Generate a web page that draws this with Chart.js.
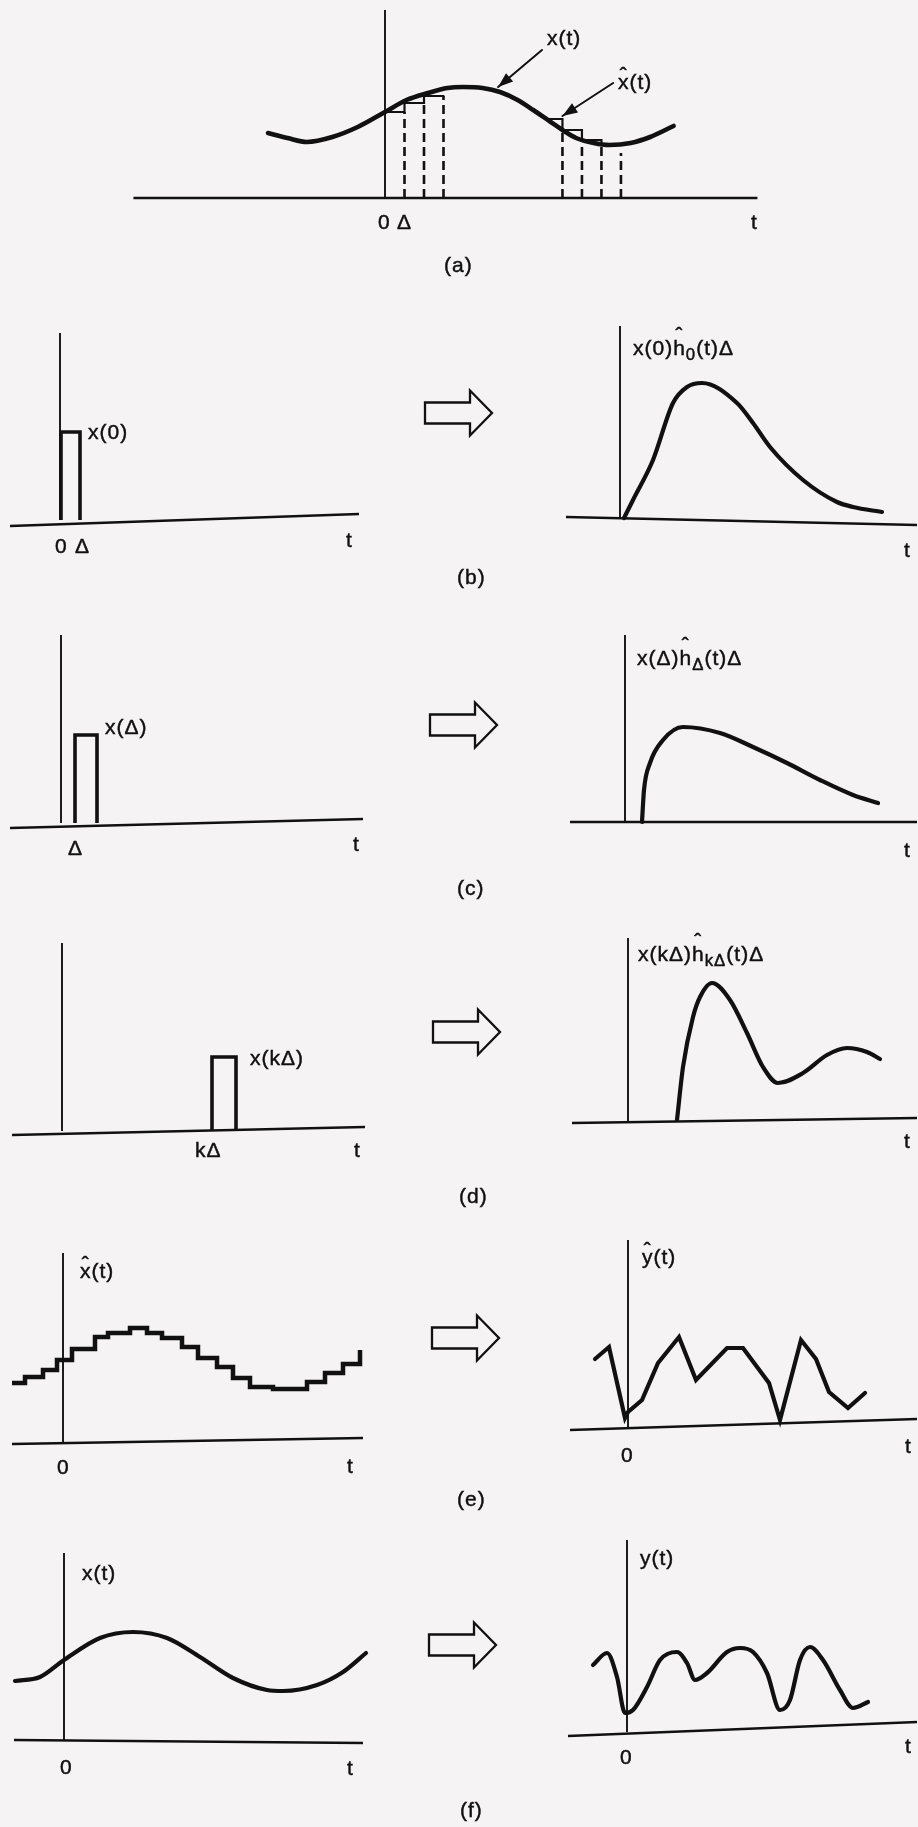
<!DOCTYPE html>
<html>
<head>
<meta charset="utf-8">
<script src="https://cdn.jsdelivr.net/npm/chart.js@4.4.0/dist/chart.umd.min.js"></script>
<style>
  body { margin: 0; background: #f5f3f3; }
  #page { position: relative; width: 918px; height: 1827px; overflow: hidden;
          font-family: "Liberation Sans", Arial, sans-serif; color: #111; }
  canvas { position: absolute; }
  .lbl { position: absolute; font-size: 21px; letter-spacing: 1px; line-height: 24px;
         white-space: nowrap; transform: translateY(-50%); -webkit-text-stroke: 0.45px #111; }
  .hat { position: relative; display: inline-block; }
  .hat i { position: absolute; left: 0; right: 0; text-align: center; font-style: normal; top: -0.32em; }
  .hat.tall i { top: -0.62em; }
  sub { font-size: 0.8em; vertical-align: -0.3em; line-height: 0; }
  svg { position: absolute; left: 0; top: 0; }
</style>
</head>
<body>
<div id="page"></div>
<script>
// (a) x(t) and the staircase x^(t), t measured in steps of Δ
const tA = [-6, -5, -4, -2.7, -1.4, 0, 1.1, 2.2, 3.2, 4, 5, 5.9, 6.8, 7.6, 8.5, 9.1, 9.8, 10.7, 11.5, 12.6, 13.6, 14.8];
const xA = [6.5, 6.0, 5.6, 6.1, 7.1, 8.6, 9.8, 10.5, 11.0, 11.1, 11.0, 10.6, 9.8, 8.8, 7.6, 6.8, 6.0, 5.5, 5.3, 5.5, 6.1, 7.2];
const stepLeftT = [0, 1, 2, 3];
const stepLeftV = [8.6, 9.5, 10.2, 10.2];
const stepRightT = [8.2, 9.1, 10.1, 11.1, 11.6];
const stepRightV = [7.9, 6.8, 5.8, 5.4, 5.4];
const dashT = [1, 2, 3, 9.1, 10.1, 11.1, 12.1];
const dashTop = [8.6, 9.5, 10.2, 6.8, 5.8, 5.4, 4.5];

// single pulses: start, width, height  (b), (c), (d)
const pulseStart = [0.1, 1.4, 15.0];
const pulseWidth = [1.9, 2.2, 2.4];
const pulseHeight = [8.8, 8.8, 7.4];

// responses to the pulses
const tB = [0.4, 1.3, 3.3, 5.3, 6.7, 8.2, 11.7, 13.3, 15.0, 18.3, 21.7, 23.3, 26.2];
const hB = [0, 1.8, 5.8, 11.5, 13.1, 13.5, 11.5, 9.5, 7.1, 3.8, 1.6, 1.1, 0.6];
const tC = [1.7, 1.9, 2.5, 3.8, 5.8, 9.5, 12.8, 16.2, 19.5, 22.8, 25.3];
const hC = [0, 3.2, 5.9, 8.2, 9.5, 8.9, 7.5, 5.9, 4.2, 2.7, 1.9];
const tD = [4.9, 5.5, 6.5, 7.2, 8.4, 10.2, 11.9, 13.5, 15.0, 17.5, 19.9, 21.9, 23.9, 25.2];
const hD = [0.2, 5.5, 10.5, 12.5, 13.9, 12.2, 8.9, 5.5, 3.9, 4.9, 6.7, 7.4, 7.0, 6.3];

// (e) staircase input and its piecewise response
const tE = [-5.1, -3.8, -2.0, -0.6, 0.9, 3.2, 4.5, 6.7, 8.4, 9.9, 11.9, 13.5, 15.4, 17.0, 18.7, 21.0, 24.4, 26.2, 28.0, 29.7];
const xE = [5.9, 6.5, 7.2, 8.2, 9.3, 10.5, 10.9, 11.4, 10.9, 10.4, 9.5, 8.4, 7.5, 6.4, 5.5, 5.3, 6.0, 6.9, 7.8, 9.2];
const tEy = [-3.3, -1.9, -0.3, 0, 1.4, 3.0, 5.1, 6.8, 9.9, 11.5, 14.1, 15.2, 17.3, 18.8, 20.1, 22.0, 23.7];
const yE = [6.9, 8.1, 1.0, 1.6, 2.8, 6.5, 9.1, 4.8, 8.0, 8.0, 4.5, 0.8, 8.8, 6.9, 3.6, 2.0, 3.5];

// (f) smooth input and output
const tF = [-4.9, -2.4, 0, 3.6, 6.9, 10.3, 13.6, 16.9, 20.3, 21.9, 25.3, 27.9, 30.2];
const xF = [6.0, 6.4, 8.1, 10.3, 10.9, 10.3, 8.4, 6.3, 5.1, 5.0, 5.6, 6.9, 8.8];
const tFy = [-3.4, -2.0, -1.0, -0.2, 0.6, 2.0, 3.3, 5.0, 6.0, 6.8, 8.0, 10.0, 11.3, 12.6, 14.0, 15.3, 16.3, 17.3, 18.3, 19.6, 21.3, 22.6, 24.1];
const yF = [6.7, 7.9, 5.5, 1.9, 2.2, 4.5, 7.2, 8.0, 6.9, 5.2, 5.9, 8.0, 8.4, 8.0, 5.9, 2.2, 3.2, 7.2, 8.5, 7.2, 4.2, 2.4, 3.0];

const ink = '#111';
const page = document.getElementById('page');

function pts(ts, vs) {
  return ts.map(function (t, i) { return { x: t, y: vs[i] }; });
}

function line(data, width, extra) {
  return Object.assign({ data: data, borderColor: ink, borderWidth: width, pointRadius: 0,
    fill: false, tension: 0, borderCapStyle: 'round', borderJoinStyle: 'round' }, extra || {});
}

function smooth(data, width) {
  return line(data, width || 4.2, { cubicInterpolationMode: 'monotone' });
}

// t axis (slightly skewed like the scan) and the vertical axis at t = 0
function axes(tMin, tMax, top, yL, yR) {
  return [
    line([{ x: tMin, y: yL || 0 }, { x: tMax, y: yR || 0 }], 2.3, { borderCapStyle: 'butt' }),
    line([{ x: 0, y: 0 }, { x: 0, y: top }], 1.9, { borderCapStyle: 'butt' })
  ];
}

function pulse(i) {
  const a = pulseStart[i], b = pulseStart[i] + pulseWidth[i], h = pulseHeight[i];
  return line([{ x: a, y: 0 }, { x: a, y: h }, { x: b, y: h }, { x: b, y: 0 }], 3.6,
    { borderJoinStyle: 'miter', borderCapStyle: 'butt' });
}

// draws a filled arrow head at the last point of datasets marked arrowHead
const arrowHeads = {
  id: 'arrowHeads',
  afterDatasetsDraw(chart) {
    const ctx = chart.ctx;
    chart.data.datasets.forEach(function (ds, i) {
      if (!ds.arrowHead) return;
      const p = chart.getDatasetMeta(i).data;
      const a = p[p.length - 2], b = p[p.length - 1];
      const ang = Math.atan2(b.y - a.y, b.x - a.x);
      ctx.save();
      ctx.translate(b.x, b.y);
      ctx.rotate(ang);
      ctx.beginPath();
      ctx.moveTo(0, 0);
      ctx.lineTo(-15, -5.5);
      ctx.lineTo(-15, 5.5);
      ctx.closePath();
      ctx.fillStyle = ink;
      ctx.fill();
      ctx.restore();
    });
  }
};

// box = [left, top, width, height] on the page, origin = page pixel of t=0, value=0
function panel(box, origin, sx, sy, datasets) {
  const cv = document.createElement('canvas');
  cv.width = box[2];
  cv.height = box[3];
  cv.style.left = box[0] + 'px';
  cv.style.top = box[1] + 'px';
  page.appendChild(cv);
  return new Chart(cv, {
    type: 'line',
    data: { datasets: datasets },
    options: {
      responsive: false,
      animation: false,
      events: [],
      layout: { padding: 0 },
      plugins: { legend: { display: false }, tooltip: { enabled: false } },
      scales: {
        x: { type: 'linear', display: false,
             min: (box[0] - origin[0]) / sx, max: (box[0] + box[2] - origin[0]) / sx },
        y: { type: 'linear', display: false,
             min: (origin[1] - box[1] - box[3]) / sy, max: (origin[1] - box[1]) / sy }
      }
    },
    plugins: [arrowHeads]
  });
}

// (a)
var dashPts = [];
for (var i = 0; i < dashT.length; i++) {
  dashPts.push({ x: dashT[i], y: 0 }, { x: dashT[i], y: dashTop[i] }, { x: dashT[i], y: null });
}
panel([120, 0, 660, 240], [385, 198], 19.5, 10, axes(-12.9, 19.1, 18.8).concat([
  line(dashPts, 2.6, { borderDash: [9, 5], borderCapStyle: 'butt', spanGaps: false }),
  line(pts(stepLeftT, stepLeftV), 2.2, { stepped: true, borderJoinStyle: 'miter' }),
  line(pts(stepRightT, stepRightV), 2.2, { stepped: true, borderJoinStyle: 'miter' }),
  smooth(pts(tA, xA), 4.6),
  line([{ x: 8.05, y: 14.8 }, { x: 5.8, y: 11.1 }], 2, { arrowHead: true }),
  line([{ x: 11.7, y: 11.5 }, { x: 9.1, y: 8.2 }], 2, { arrowHead: true })
]));

// (b)
panel([0, 300, 420, 250], [60, 520], 10, 10, axes(-5, 29.9, 18.7, -0.6, 0.6).concat([pulse(0)]));
panel([540, 300, 378, 240], [620, 518], 10, 10, axes(-5.4, 29.7, 19.2, 0.1, -0.7).concat([smooth(pts(tB, hB))]));

// (c)
panel([0, 610, 420, 240], [61, 823], 10, 10, axes(-5.1, 30.2, 18.8, -0.5, 0.4).concat([pulse(1)]));
panel([540, 610, 378, 240], [625, 822], 10, 10, axes(-5.5, 29.2, 18.7).concat([smooth(pts(tC, hC))]));

// (d)
panel([0, 920, 420, 240], [62, 1131], 10, 10, axes(-5, 30.3, 18.8, -0.4, 0.4).concat([pulse(2)]));
panel([540, 920, 378, 230], [628, 1122], 10, 10, axes(-5.6, 28.9, 18.4, -0.1, 0.4).concat([smooth(pts(tD, hD))]));

// (e)
panel([0, 1230, 420, 240], [63, 1442], 10, 10, axes(-5.1, 30, 18.9, -0.2, 0.4).concat([
  line(pts(tE, xE), 4.5, { stepped: true, borderJoinStyle: 'miter', borderCapStyle: 'butt' })
]));
panel([540, 1220, 378, 240], [628, 1428], 10, 10, axes(-5.8, 28.9, 18.8, -0.2, 0.9).concat([
  line(pts(tEy, yE), 4.2, { borderJoinStyle: 'miter' })
]));

// (f)
panel([0, 1530, 420, 240], [64, 1741], 10, 10, axes(-5, 29.9, 18.8, 0.1, -0.2).concat([smooth(pts(tF, xF))]));
panel([540, 1520, 378, 240], [627, 1732], 10, 10, axes(-5.9, 29, 19.2, -0.4, 1.0).concat([smooth(pts(tFy, yF))]));

// hollow arrows between the columns
function bigArrow(x0, cy) {
  const L = 67, sh = 10.5, hh = 22.5, hl = 22;
  const xb = x0 + L - hl, xt = x0 + L;
  return '<polygon points="' + [x0, cy - sh, xb, cy - sh, xb, cy - hh, xt, cy, xb, cy + hh, xb, cy + sh, x0, cy + sh].join(' ') + '" />';
}
page.insertAdjacentHTML('beforeend',
  '<svg width="918" height="1827"><g fill="none" stroke="' + ink + '" stroke-width="2.3" stroke-linejoin="miter">' +
  bigArrow(425, 413) + bigArrow(430, 725) + bigArrow(433, 1032) + bigArrow(432, 1338) + bigArrow(429, 1645) +
  '</g></svg>');

// text
function hat(ch, tall) {
  return '<span class="hat' + (tall ? ' tall' : '') + '">' + ch + '<i>ˆ</i></span>';
}
const labels = [
  ['x(t)', 547, 38], [hat('x') + '(t)', 618, 82], ['0', 378, 222], ['Δ', 397, 222], ['t', 751, 222], ['(a)', 444, 265],
  ['x(0)', 88, 432], ['0', 55, 546], ['Δ', 75, 546], ['t', 346, 540],
  ['x(0)' + hat('h', true) + '<sub>0</sub>(t)Δ', 633, 348], ['t', 904, 550], ['(b)', 457, 577],
  ['x(Δ)', 105, 727], ['Δ', 68, 848], ['t', 353, 844],
  ['x(Δ)' + hat('h', true) + '<sub>Δ</sub>(t)Δ', 637, 658], ['t', 904, 850], ['(c)', 457, 888],
  ['x(kΔ)', 250, 1058], ['kΔ', 195, 1150], ['t', 354, 1150],
  ['x(kΔ)' + hat('h', true) + '<sub>kΔ</sub>(t)Δ', 638, 954], ['t', 904, 1141], ['(d)', 459, 1196],
  [hat('x') + '(t)', 80, 1271], ['0', 57, 1467], ['t', 347, 1466],
  [hat('y') + '(t)', 642, 1257], ['0', 621, 1455], ['t', 905, 1446], ['(e)', 457, 1499],
  ['x(t)', 82, 1573], ['0', 60, 1767], ['t', 347, 1768],
  ['y(t)', 640, 1558], ['0', 620, 1757], ['t', 905, 1746], ['(f)', 460, 1810]
];
labels.forEach(function (l) {
  const d = document.createElement('div');
  d.className = 'lbl';
  d.innerHTML = l[0];
  d.style.left = l[1] + 'px';
  d.style.top = l[2] + 'px';
  page.appendChild(d);
});
</script>
</body>
</html>
